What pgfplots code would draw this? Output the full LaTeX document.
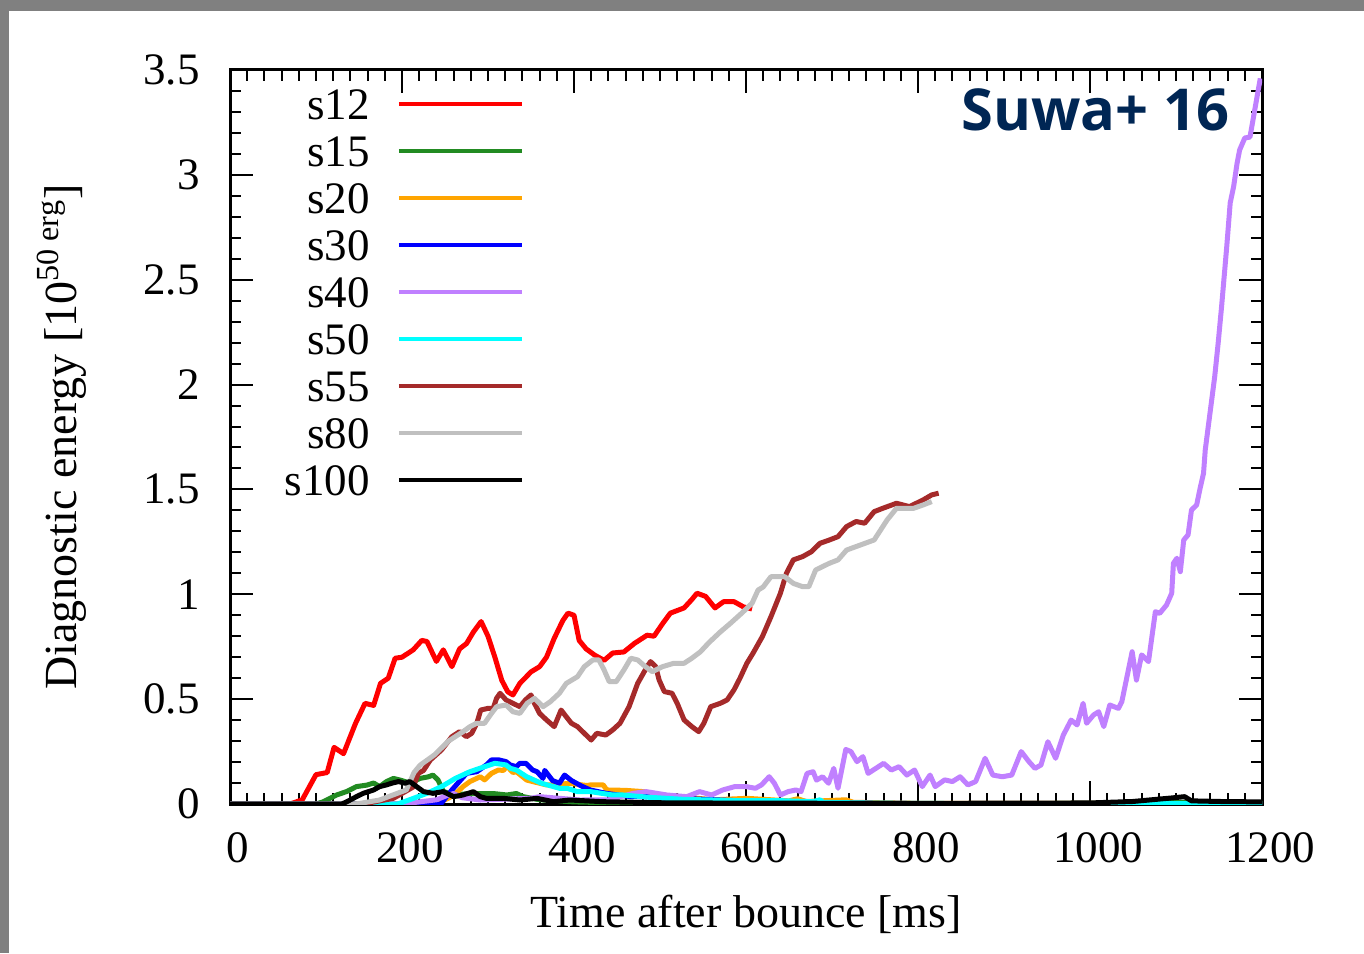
\documentclass[border=0pt]{standalone}
\usepackage{pgfplots}
\pgfplotsset{compat=1.18}
\usepackage{fontspec}
\setmainfont{Liberation Serif}
\newfontfamily\suwafont{Open Sans}
\definecolor{frame}{RGB}{128,128,128}
\definecolor{cS12}{RGB}{255,0,0}
\definecolor{cS15}{RGB}{34,139,34}
\definecolor{cS20}{RGB}{255,165,0}
\definecolor{cS30}{RGB}{0,0,255}
\definecolor{cS40}{RGB}{192,128,255}
\definecolor{cS50}{RGB}{0,255,255}
\definecolor{cS55}{RGB}{165,42,42}
\definecolor{cS80}{RGB}{192,192,192}
\definecolor{cS100}{RGB}{0,0,0}
\definecolor{navy}{RGB}{0,38,84}
\begin{document}
\begin{tikzpicture}
\fill[frame] (0,0) rectangle (682pt,476.5pt);
\fill[white] (4.5pt,0) rectangle (682pt,470.75pt);
\begin{axis}[
  at={(115pt,74.5pt)}, anchor=south west,
  scale only axis, width=516pt, height=367pt,
  xmin=0, xmax=1200, ymin=0, ymax=3.5,
  xtick={0,200,...,1200}, ytick={0,0.5,...,3.5},
  minor x tick num=9, minor y tick num=4,
  tick align=inside, major tick length=11.5pt, minor tick length=5.5pt,
  axis line style={line width=1.5pt},
  tick style={black, line width=1pt},
  /pgf/number format/1000 sep={},
  /pgf/number format/assume math mode=true,
  tick label style={font=\fontsize{22.5}{27}\selectfont, inner sep=0pt},
  xticklabel style={anchor=base, yshift=-29pt, xshift=4pt},
  yticklabel style={anchor=east, xshift=-15pt},
  xlabel={Time after bounce [ms]},
  ylabel={Diagnostic energy [10\textsuperscript{50 erg}]},
  label style={font=\fontsize{23}{28}\selectfont},
  xlabel style={at={(axis description cs:0.5,-0.151)}, anchor=center},
  ylabel style={at={(axis description cs:-0.163,0.5)}, anchor=center},
  legend style={at={(axis description cs:0.285,0.9755)}, anchor=north east,
    draw=none, fill=none, inner sep=0pt, outer sep=0pt, row sep=0pt, column sep=13.5pt,
    font=\fontsize{22.5}{27}\selectfont,
    nodes={inner sep=0pt, text height=16pt, text depth=7.5pt}},
  legend cell align=right, legend plot pos=right,
  legend image code/.code={\draw[#1, line width=2.2pt] (0pt,3.6pt) -- (61.5pt,3.6pt);},
  every axis plot/.append style={line width=2.5pt, line join=round},
]
\addplot[cS12] coordinates {
(0,0) (40,0) (70,0) (84,0.02) (100,0.14) (113,0.15) (121,0.27) (132,0.24) (146,0.385) (157,0.48)
(167,0.47) (175,0.575) (184,0.60) (192,0.695) (200,0.70) (213,0.735) (223,0.78) (229,0.775) (240,0.68)
(248,0.735) (258,0.655) (267,0.74) (275,0.765) (283,0.82) (292,0.87) (300,0.80) (308,0.70) (316,0.59)
(323,0.535) (329,0.52) (337,0.575) (350,0.63) (360,0.655) (368,0.70) (377,0.79) (387,0.875) (393,0.91)
(400,0.90) (406,0.78) (414,0.74) (424,0.71) (435,0.685) (445,0.72) (458,0.725) (470,0.765) (485,0.805)
(493,0.80) (503,0.86) (512,0.91) (528,0.935) (537,0.975) (543,1.005) (553,0.99) (564,0.935) (574,0.965)
(586,0.965) (597,0.94) (607,0.93)};
\addlegendentry{s12}
\addplot[cS15] coordinates {
(0,0) (100,0) (108,0.01) (124,0.043) (136,0.06) (147,0.083) (159,0.09) (167,0.10) (174,0.083) (182,0.107)
(190,0.122) (198,0.114) (209,0.10) (221,0.122) (231,0.13) (236,0.138) (242,0.114) (248,0.06) (260,0.043)
(279,0.05) (295,0.05) (306,0.05) (322,0.043) (333,0.05) (341,0.035) (360,0.02) (400,0.01) (450,0.005)
(500,0.005) (600,0.002) (800,0) (1000,0.003) (1100,0.008) (1200,0.005)};
\addlegendentry{s15}
\addplot[cS20] coordinates {
(0,0) (240,0) (255,0.03) (265,0.06) (271,0.083) (279,0.107) (291,0.13) (296,0.115) (304,0.146) (312,0.162)
(318,0.16) (322,0.18) (329,0.15) (333,0.154) (345,0.114) (360,0.099) (368,0.091) (376,0.091) (395,0.099)
(415,0.088) (419,0.091) (434,0.091) (438,0.067) (460,0.065) (481,0.059) (500,0.043) (523,0.035) (562,0.02)
(601,0.027) (650,0.015) (660,0.025) (670,0.012) (716,0.02) (725,0.008) (800,0.003) (1200,0.002)};
\addlegendentry{s20}
\addplot[cS30] coordinates {
(0,0) (245,0) (258,0.067) (275,0.146) (287,0.154) (298,0.186) (304,0.21) (313,0.21) (321,0.202) (326,0.186)
(333,0.178) (337,0.194) (344,0.194) (352,0.162) (357,0.154) (364,0.122) (366,0.16) (375,0.112) (383,0.099)
(389,0.138) (397,0.112) (408,0.087) (419,0.067) (437,0.051) (466,0.035) (485,0.035) (508,0.027) (524,0.027)
(570,0.019) (620,0.011) (700,0.005) (800,0.002) (1200,0.001)};
\addlegendentry{s30}
\addplot[cS40] coordinates {
(0,0) (200,0) (240,0.02) (252,0.04) (260,0.05) (270,0.03) (291,0.019) (349,0.027) (360,0.035) (407,0.019)
(440,0.02) (469,0.051) (484,0.059) (508,0.043) (531,0.035) (546,0.059) (560,0.043) (573,0.067) (587,0.083)
(600,0.083) (611,0.075) (618,0.091) (627,0.13) (633,0.099) (640,0.043) (649,0.059) (658,0.067) (664,0.059)
(671,0.146) (678,0.154) (682,0.114) (689,0.13) (696,0.099) (702,0.17) (707,0.075) (716,0.26) (722,0.25)
(729,0.202) (736,0.226) (742,0.146) (751,0.17) (760,0.194) (769,0.162) (778,0.178) (787,0.138) (796,0.162)
(805,0.083) (814,0.138) (820,0.083) (831,0.115) (840,0.107) (849,0.13) (858,0.091) (867,0.107) (878,0.218)
(887,0.138) (898,0.13) (909,0.138) (920,0.25) (929,0.202) (936,0.17) (943,0.186) (951,0.297) (960,0.218)
(969,0.329) (978,0.40) (985,0.377) (992,0.48) (996,0.385) (1004,0.424) (1010,0.44) (1016,0.369) (1023,0.472)
(1033,0.456) (1037,0.488) (1043,0.607) (1049,0.726) (1054,0.591) (1060,0.711) (1068,0.679) (1072,0.798)
(1076,0.917) (1081,0.909) (1089,0.949) (1095,1.005) (1097,1.148) (1101,1.172) (1105,1.108) (1109,1.259)
(1114,1.283) (1118,1.402) (1124,1.426) (1128,1.505) (1132,1.577) (1134,1.688) (1137,1.784) (1140,1.879)
(1145,2.038) (1149,2.197) (1153,2.372) (1159,2.658) (1163,2.866) (1167,2.944) (1171,3.055) (1174,3.119)
(1180,3.176) (1186,3.18) (1192,3.32) (1198,3.46)};
\addlegendentry{s40}
\addplot[cS50] coordinates {
(0,0) (195,0) (208,0.019) (229,0.051) (246,0.083) (262,0.122) (279,0.154) (296,0.178) (308,0.194) (315,0.19)
(321,0.186) (326,0.17) (333,0.162) (345,0.13) (362,0.099) (383,0.075) (392,0.075) (404,0.059) (419,0.059)
(445,0.043) (457,0.043) (487,0.032) (508,0.027) (528,0.022) (562,0.019) (591,0.016) (640,0.016) (678,0.011)
(686,0.02) (690,0.008) (750,0.004) (850,0.002) (1200,0.001)};
\addlegendentry{s50}
\addplot[cS55] coordinates {
(0,0) (150,0) (155,0) (190,0.027) (213,0.081) (219,0.146) (225,0.16) (233,0.21) (246,0.258) (258,0.321)
(267,0.345) (275,0.321) (281,0.337) (287,0.385) (291.5,0.448) (300,0.456) (306,0.456) (310,0.504) (314,0.528)
(321,0.496) (329,0.48) (337,0.464) (343.5,0.496) (350,0.52) (354,0.48) (360,0.432) (368,0.401) (377,0.369)
(385,0.448) (391,0.416) (397,0.385) (404,0.369) (412,0.337) (420,0.305) (426.5,0.337) (437,0.329) (445,0.353)
(453.5,0.385) (464,0.464) (474,0.575) (485,0.655) (489,0.679) (495,0.655) (499,0.591) (505,0.536) (514,0.528)
(520,0.48) (528,0.401) (537,0.369) (545,0.345) (551,0.385) (559,0.464) (570,0.48) (578,0.496) (586,0.544)
(593,0.60) (601,0.671) (608,0.718) (619,0.798) (629,0.893) (640,1.005) (647,1.10) (655,1.164) (666,1.18)
(676,1.203) (686,1.243) (697,1.259) (707,1.275) (717,1.323) (728,1.347) (738,1.339) (749,1.394) (759,1.41)
(775,1.434) (790,1.418) (806,1.45) (816,1.474) (824,1.482)};
\addlegendentry{s55}
\addplot[cS80] coordinates {
(0,0) (145,0) (151,0.003) (174,0.019) (205,0.067) (214,0.15) (221,0.185) (238,0.235) (254,0.30) (271,0.345)
(279,0.369) (287,0.385) (296,0.385) (304,0.432) (310,0.464) (321,0.472) (329,0.44) (337,0.432) (345.5,0.48)
(354,0.504) (364,0.464) (372.5,0.488) (383,0.528) (391,0.575) (404,0.607) (412,0.655) (422,0.687) (429,0.687)
(435,0.639) (441,0.583) (449,0.583) (458,0.639) (466,0.695) (474,0.687) (483,0.655) (491,0.631) (503,0.655)
(516,0.671) (528,0.671) (537,0.695) (547,0.726) (557,0.77) (570,0.82) (582,0.862) (595,0.91) (607,0.957)
(614,1.02) (620,1.035) (629,1.084) (645,1.084) (655,1.052) (666,1.036) (673,1.036) (681,1.116) (697,1.148)
(707,1.164) (717,1.211) (733,1.235) (749,1.259) (764,1.354) (775,1.41) (795,1.41) (806,1.426) (816,1.442)};
\addlegendentry{s80}
\addplot[cS100] coordinates {
(0,0) (130,0) (136,0.011) (147,0.035) (155,0.051) (167,0.067) (174,0.083) (182,0.091) (188,0.099) (196,0.107)
(203.5,0.099) (209,0.107) (217,0.083) (225,0.059) (236,0.051) (248,0.059) (260,0.035) (271,0.043) (283,0.059)
(291,0.035) (298,0.027) (318,0.027) (337,0.019) (357,0.027) (376,0.011) (395,0.019) (434,0.011) (500,0.006)
(600,0.004) (800,0.003) (1000,0.005) (1050,0.012) (1098,0.03) (1110,0.035) (1118,0.015) (1150,0.012) (1200,0.01)};
\addlegendentry{s100}
\node[anchor=base east, text=navy, inner sep=0pt, font=\suwafont\bfseries\fontsize{28.9}{34}\selectfont]
  at (axis description cs:0.969,0.917) {Suwa+ 16};
\end{axis}
\pgfresetboundingbox
\path (0,0) rectangle (682pt,476.5pt);
\end{tikzpicture}
\end{document}
